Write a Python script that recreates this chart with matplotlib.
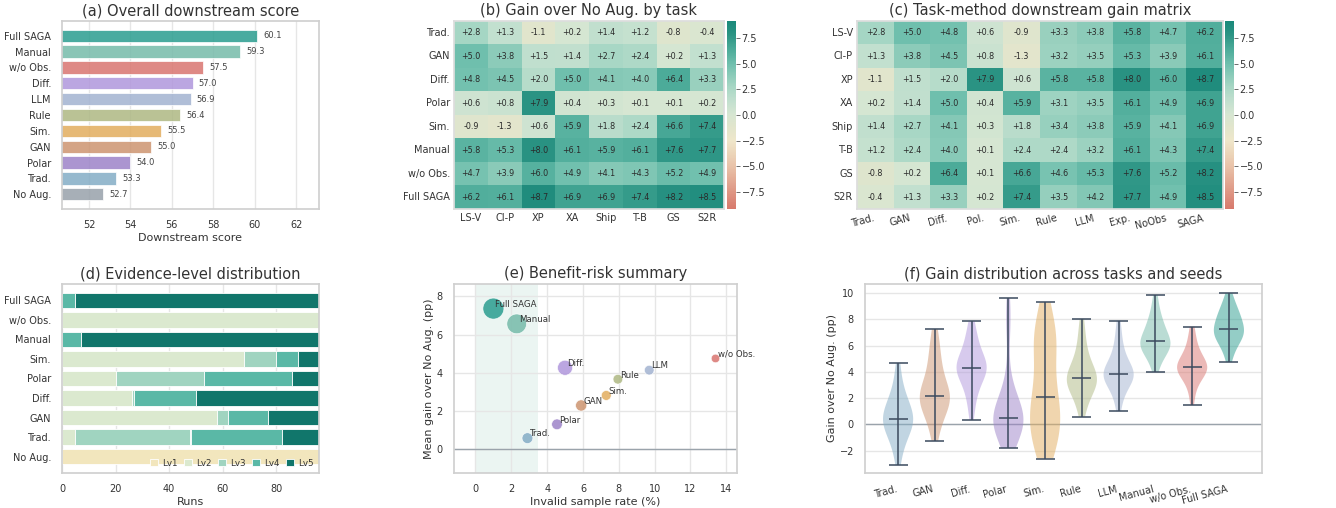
import numpy as np
import matplotlib.pyplot as plt
import seaborn as sns
from matplotlib.colors import LinearSegmentedColormap

sns.set_theme(style="whitegrid")
plt.rcParams['font.family'] = ['DejaVu Sans']
plt.rcParams['axes.edgecolor'] = '#d0d0d0'
plt.rcParams['grid.color'] = '#e6e6e6'
plt.rcParams['text.color'] = '#333333'
plt.rcParams['axes.labelcolor'] = '#333333'
plt.rcParams['xtick.color'] = '#333333'
plt.rcParams['ytick.color'] = '#333333'

W, H = 1336, 508

# ---------------- data ----------------
tasks = ["LS-V", "CI-P", "XP", "XA", "Ship", "T-B", "GS", "S2R"]

gain_trad = [2.8, 1.3, -1.1, 0.2, 1.4, 1.2, -0.8, -0.4]
gain_gan = [5.0, 3.8, 1.5, 1.4, 2.7, 2.4, 0.2, 1.3]
gain_diff = [4.8, 4.5, 2.0, 5.0, 4.1, 4.0, 6.4, 3.3]
gain_polar = [0.6, 0.8, 7.9, 0.4, 0.3, 0.1, 0.1, 0.2]
gain_sim = [-0.9, -1.3, 0.6, 5.9, 1.8, 2.4, 6.6, 7.4]
gain_rule = [3.3, 3.2, 5.8, 3.1, 3.4, 2.4, 4.6, 3.5]
gain_llm = [3.8, 3.5, 5.8, 3.5, 3.8, 3.2, 5.3, 4.2]
gain_manual = [5.8, 5.3, 8.0, 6.1, 5.9, 6.1, 7.6, 7.7]
gain_noobs = [4.7, 3.9, 6.0, 4.9, 4.1, 4.3, 5.2, 4.9]
gain_saga = [6.2, 6.1, 8.7, 6.9, 6.9, 7.4, 8.2, 8.5]

# (a) overall score
score_methods = ["Full SAGA", "Manual", "w/o Obs.", "Diff.", "LLM", "Rule",
                 "Sim.", "GAN", "Polar", "Trad.", "No Aug."]
scores = [60.1, 59.3, 57.5, 57.0, 56.9, 56.4, 55.5, 55.0, 54.0, 53.3, 52.7]

# (b) rows
b_methods = ["Trad.", "GAN", "Diff.", "Polar", "Sim.", "Manual", "w/o Obs.", "Full SAGA"]
# (c) columns
c_methods = ["Trad.", "GAN", "Diff.", "Polar", "Sim.", "Rule", "LLM", "Manual", "w/o Obs.", "Full SAGA"]
c_labels = ["Trad.", "GAN", "Diff.", "Pol.", "Sim.", "Rule", "LLM", "Exp.", "NoObs", "SAGA"]

# (d) evidence levels (bottom to top)
lv_methods = ["No Aug.", "Trad.", "GAN", "Diff.", "Polar", "Sim.", "Manual", "w/o Obs.", "Full SAGA"]
lv1 = [96, 0, 0, 0, 0, 0, 0, 0, 0]
lv2 = [0, 5, 58, 26, 20, 68, 0, 96, 0]
lv3 = [0, 43, 4, 1, 33, 12, 0, 0, 0]
lv4 = [0, 34, 15, 23, 33, 8, 7, 0, 5]
lv5 = [0, 14, 19, 46, 10, 8, 89, 0, 91]

# (e) benefit-risk
e_methods = ["Full SAGA", "Manual", "Diff.", "LLM", "w/o Obs.", "Rule", "Sim.", "GAN", "Polar", "Trad."]
invalid_rate = [1.0, 2.3, 5.0, 9.7, 13.4, 7.95, 7.3, 5.9, 4.55, 2.9]
strong_evidence = [91, 78, 38, 5, 0, 5, 6, 13, 10, 11]

# (f) gains across tasks and seeds
f_methods = ["Trad.", "GAN", "Diff.", "Polar", "Sim.", "Rule", "LLM", "Manual", "w/o Obs.", "Full SAGA"]
runs_trad = [-3.1, -2.2, -1.6, -1.2, -0.9, -0.6, -0.4, -0.2, 0.0, 0.2, 0.3, 0.4,
             0.4, 0.6, 0.9, 1.1, 1.3, 1.5, 1.7, 2.0, 2.4, 2.9, 3.6, 4.65]
runs_gan = [-1.25, -0.4, 0.2, 0.6, 1.0, 1.3, 1.5, 1.7, 1.9, 2.0, 2.1, 2.2,
            2.2, 2.4, 2.7, 3.0, 3.4, 3.8, 4.2, 4.7, 5.2, 5.8, 6.4, 7.25]
runs_diff = [0.35, 1.4, 2.0, 2.5, 2.9, 3.3, 3.6, 3.8, 4.0, 4.1, 4.2, 4.3,
             4.3, 4.5, 4.6, 4.8, 5.0, 5.2, 5.5, 5.9, 6.3, 6.6, 7.2, 7.85]
runs_polar = [-1.8, -1.2, -0.8, -0.5, -0.3, -0.1, 0.0, 0.1, 0.2, 0.3, 0.4, 0.5,
              0.5, 0.6, 0.8, 1.0, 1.2, 1.5, 1.9, 2.6, 3.5, 7.0, 8.2, 9.6]
runs_sim = [-2.6, -1.9, -1.4, -1.0, -0.7, -0.4, -0.1, 0.3, 0.7, 1.2, 1.7, 2.0,
            2.2, 2.6, 3.6, 4.8, 5.5, 5.9, 6.3, 6.6, 7.0, 7.4, 8.2, 9.3]
runs_rule = [0.6, 1.3, 1.8, 2.2, 2.5, 2.7, 2.9, 3.1, 3.2, 3.3, 3.4, 3.5,
             3.6, 3.7, 3.9, 4.1, 4.3, 4.6, 4.9, 5.3, 5.8, 6.4, 7.1, 8.05]
runs_llm = [1.0, 1.8, 2.3, 2.7, 3.0, 3.2, 3.4, 3.5, 3.6, 3.7, 3.8, 3.8,
            3.9, 4.0, 4.1, 4.3, 4.5, 4.7, 5.0, 5.4, 5.8, 6.3, 7.0, 7.9]
runs_manual = [4.0, 4.6, 5.0, 5.3, 5.5, 5.7, 5.8, 5.9, 6.0, 6.1, 6.2, 6.3,
               6.4, 6.5, 6.7, 6.9, 7.1, 7.4, 7.6, 7.8, 8.1, 8.5, 9.1, 9.85]
runs_noobs = [1.5, 2.4, 2.9, 3.3, 3.6, 3.8, 3.9, 4.0, 4.1, 4.2, 4.3, 4.4,
              4.4, 4.5, 4.6, 4.8, 4.9, 5.1, 5.3, 5.6, 5.9, 6.3, 6.8, 7.45]
runs_saga = [4.75, 5.4, 5.8, 6.1, 6.3, 6.5, 6.7, 6.8, 6.9, 7.0, 7.1, 7.2,
             7.4, 7.5, 7.7, 7.9, 8.1, 8.2, 8.4, 8.6, 8.8, 9.1, 9.5, 10.0]

gains = {"Trad.": gain_trad, "GAN": gain_gan, "Diff.": gain_diff, "Polar": gain_polar,
         "Sim.": gain_sim, "Rule": gain_rule, "LLM": gain_llm, "Manual": gain_manual,
         "w/o Obs.": gain_noobs, "Full SAGA": gain_saga}
runs = [runs_trad, runs_gan, runs_diff, runs_polar, runs_sim, runs_rule,
        runs_llm, runs_manual, runs_noobs, runs_saga]

colors = {"Full SAGA": "#2a9d8f", "Manual": "#76bbaa", "w/o Obs.": "#d97570",
          "Diff.": "#b097dc", "LLM": "#a2b3d1", "Rule": "#aeb883", "Sim.": "#e2ad5e",
          "GAN": "#cd9470", "Polar": "#9c83c8", "Trad.": "#84adc6", "No Aug.": "#98a1ab"}
lv_colors = ["#f2e6bd", "#dbe9cf", "#a0d4c0", "#5ab8a6", "#11766b"]

cmap = LinearSegmentedColormap.from_list("gain", [
    (0.0, "#d7796c"), (0.227, "#e9c3a9"), (0.363, "#efe7ca"), (0.44, "#e1e5cc"),
    (0.505, "#d6e6d2"), (0.571, "#c3e0cf"), (0.653, "#a6d6c4"), (0.773, "#6fbfad"),
    (0.85, "#4cab99"), (0.932, "#2a9383"), (1.0, "#1a897a")])
VMAX = 9.15

TITLE = 10.5
TICK = 7
LABEL = 8


def box(l, t, r, b):
    return [l / W, 1 - b / H, (r - l) / W, (b - t) / H]


fig = plt.figure(figsize=(W / 100, H / 100), dpi=100)

# ---------------- (a) ----------------
ax = fig.add_axes(box(62, 21, 319, 209))
y = np.arange(len(score_methods))[::-1]
ax.barh(y, scores, height=0.78, color=[colors[m] for m in score_methods],
        alpha=0.85, edgecolor="white", linewidth=0.6)
for yi, s in zip(y, scores):
    ax.text(s + 0.3, yi, f"{s:.1f}", va="center", ha="left", fontsize=6, color="#444444")
ax.set_yticks(y)
ax.set_yticklabels(score_methods, fontsize=TICK)
ax.set_xlim(50.7, 63.1)
ax.set_xticks([52, 54, 56, 58, 60, 62])
ax.tick_params(axis="x", labelsize=TICK, pad=2)
ax.tick_params(axis="y", pad=2)
ax.grid(axis="y", visible=False)
ax.set_xlabel("Downstream score", fontsize=LABEL, labelpad=2)
ax.set_title("(a) Overall downstream score", fontsize=TITLE, pad=4)

# ---------------- (b) ----------------
ax = fig.add_axes(box(454, 21, 724, 209))
cax = fig.add_axes(box(727, 21, 736, 209))
mat_b = np.array([gains[m] for m in b_methods])
sns.heatmap(mat_b, ax=ax, cbar_ax=cax, cmap=cmap, vmin=-VMAX, vmax=VMAX,
            annot=True, fmt="+.1f", annot_kws={"size": 5.8, "color": "#2a2a2a"},
            xticklabels=tasks, yticklabels=b_methods)
ax.tick_params(axis="both", labelsize=TICK, length=0, pad=3)
ax.set_yticklabels(b_methods, rotation=0)
ax.set_xticklabels(tasks, rotation=0)
for sp in ax.spines.values():
    sp.set_visible(True)
    sp.set_color("#dddddd")
cax.set_yticks([-7.5, -5, -2.5, 0, 2.5, 5, 7.5])
cax.tick_params(labelsize=TICK, length=3, width=0.6, right=True, color="#555555", pad=1)
ax.set_title("(b) Gain over No Aug. by task", fontsize=TITLE, pad=4)

# ---------------- (c) ----------------
ax = fig.add_axes(box(857, 21, 1223, 209))
cax = fig.add_axes(box(1225, 21, 1234, 209))
mat_c = np.array([gains[m] for m in c_methods]).T
sns.heatmap(mat_c, ax=ax, cbar_ax=cax, cmap=cmap, vmin=-VMAX, vmax=VMAX,
            annot=True, fmt="+.1f", annot_kws={"size": 5.8, "color": "#2a2a2a"},
            xticklabels=c_labels, yticklabels=tasks)
ax.tick_params(axis="both", labelsize=TICK, length=0, pad=3)
ax.set_yticklabels(tasks, rotation=0)
ax.set_xticklabels(c_labels, rotation=15, ha="right")
for sp in ax.spines.values():
    sp.set_visible(True)
    sp.set_color("#dddddd")
cax.set_yticks([-7.5, -5, -2.5, 0, 2.5, 5, 7.5])
cax.tick_params(labelsize=TICK, length=3, width=0.6, right=True, color="#555555", pad=1)
ax.set_title("(c) Task-method downstream gain matrix", fontsize=TITLE, pad=4)

# ---------------- (d) ----------------
ax = fig.add_axes(box(62, 284, 319, 473))
yd = np.arange(len(lv_methods))
left = np.zeros(len(lv_methods))
for i, counts in enumerate([lv1, lv2, lv3, lv4, lv5]):
    ax.barh(yd, counts, left=left, height=0.8, color=lv_colors[i],
            edgecolor="white", linewidth=0.6, label=f"Lv{i + 1}")
    left += np.array(counts)
ax.set_yticks(yd)
ax.set_yticklabels(lv_methods, fontsize=TICK)
ax.set_xlim(0, 96)
ax.set_xticks([0, 20, 40, 60, 80])
ax.tick_params(axis="x", labelsize=TICK, pad=2)
ax.tick_params(axis="y", pad=2)
ax.grid(axis="y", visible=False)
ax.set_xlabel("Runs", fontsize=LABEL, labelpad=2)
ax.legend(loc="lower right", ncol=5, frameon=False, fontsize=6.3, handlelength=0.9,
          handleheight=0.8, columnspacing=0.7, handletextpad=0.5,
          borderaxespad=0.2, bbox_to_anchor=(1.0, 0.0))
ax.set_title("(d) Evidence-level distribution", fontsize=TITLE, pad=4)

# ---------------- (e) ----------------
ax = fig.add_axes(box(454, 284, 737, 473))
ax.axvspan(0, 3.5, color="#e3f1ed", alpha=0.7, zorder=0, lw=0)
ax.axhline(0, color="#9aa3ab", lw=1, zorder=1)
mean_gain = [np.mean(gains[m]) for m in e_methods]
sizes = [38 + 2.1 * v for v in strong_evidence]
ax.scatter(invalid_rate, mean_gain, s=sizes, c=[colors[m] for m in e_methods],
           alpha=0.85, edgecolor="white", linewidth=0.5, zorder=3)
for m, xv, yv in zip(e_methods, invalid_rate, mean_gain):
    ax.annotate(m, (xv, yv), xytext=(1.5, 3), textcoords="offset points",
                fontsize=6.2, ha="left", va="center", color="#333333", zorder=4)
ax.set_xlim(-1.2, 14.6)
ax.set_ylim(-1.25, 8.65)
ax.set_xticks(range(0, 15, 2))
ax.set_yticks([0, 2, 4, 6, 8])
ax.tick_params(labelsize=TICK, pad=2)
ax.set_xlabel("Invalid sample rate (%)", fontsize=LABEL, labelpad=2)
ax.set_ylabel("Mean gain over No Aug. (pp)", fontsize=LABEL, labelpad=2)
ax.set_title("(e) Benefit-risk summary", fontsize=TITLE, pad=4)

# ---------------- (f) ----------------
ax = fig.add_axes(box(865, 284, 1262, 473))
ax.axhline(0, color="#9aa3ab", lw=1, zorder=1)
pos = np.arange(len(f_methods))
vp = ax.violinplot(runs, positions=pos, widths=0.82, showextrema=False)
for body, m in zip(vp["bodies"], f_methods):
    body.set_facecolor(colors[m])
    body.set_edgecolor("none")
    body.set_alpha(0.5)
line_c = "#3b4a5e"
for p, r in zip(pos, runs):
    lo, hi, med = np.min(r), np.max(r), np.median(r)
    ax.vlines(p, lo, hi, color=line_c, lw=1.1, zorder=3)
    ax.hlines([lo, hi, med], p - 0.26, p + 0.26, color=line_c, lw=1.1, zorder=3)
ax.set_xticks(pos)
ax.set_xticklabels(f_methods, rotation=15, ha="right", fontsize=TICK)
ax.set_xlim(-0.9, 9.9)
ax.set_ylim(-3.7, 10.7)
ax.set_yticks([-2, 0, 2, 4, 6, 8, 10])
ax.tick_params(labelsize=TICK, pad=2)
ax.grid(axis="x", visible=False)
ax.set_ylabel("Gain over No Aug. (pp)", fontsize=LABEL, labelpad=2)
ax.set_title("(f) Gain distribution across tasks and seeds", fontsize=TITLE, pad=4)

fig.savefig("out.png", dpi=100)
